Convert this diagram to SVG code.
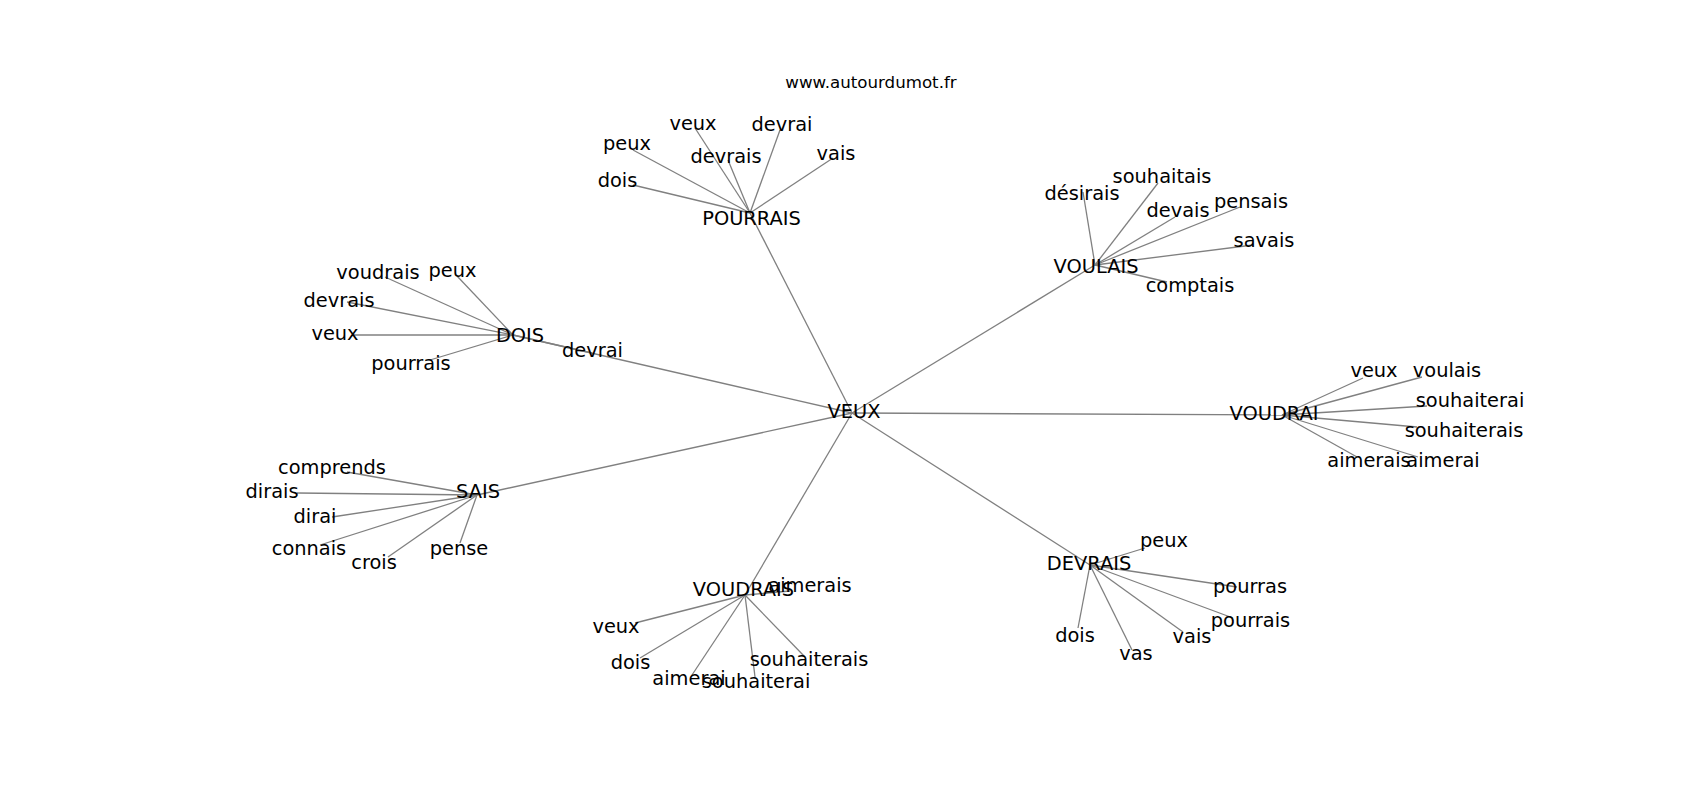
<svg xmlns="http://www.w3.org/2000/svg" width="1700" height="800" viewBox="0 0 1700 800">
<style>
text{font-family:"DejaVu Sans","Liberation Sans",sans-serif;font-size:19.4px;fill:#000;text-anchor:middle}
.title{font-size:16.67px}
#edges line{stroke:#808080;stroke-width:1.3}
</style>
<rect width="1700" height="800" fill="#fff"/>
<text class="title" x="871" y="88">www.autourdumot.fr</text>
<g id="edges">
<line x1="852" y1="413" x2="750" y2="213"/>
<line x1="852" y1="413" x2="513" y2="335"/>
<line x1="852" y1="413" x2="1095" y2="265"/>
<line x1="852" y1="413" x2="1282" y2="415"/>
<line x1="852" y1="413" x2="477" y2="495"/>
<line x1="852" y1="413" x2="745" y2="595"/>
<line x1="852" y1="413" x2="1090" y2="565"/>
<line x1="750" y1="213" x2="633" y2="185"/>
<line x1="750" y1="213" x2="633" y2="150"/>
<line x1="750" y1="213" x2="695" y2="128"/>
<line x1="750" y1="213" x2="728" y2="160"/>
<line x1="750" y1="213" x2="780" y2="130"/>
<line x1="750" y1="213" x2="833" y2="158"/>
<line x1="513" y1="335" x2="385" y2="277"/>
<line x1="513" y1="335" x2="457" y2="276"/>
<line x1="513" y1="335" x2="347" y2="302"/>
<line x1="513" y1="335" x2="352" y2="335"/>
<line x1="513" y1="335" x2="430" y2="360"/>
<line x1="513" y1="335" x2="592" y2="353"/>
<line x1="1095" y1="265" x2="1083" y2="192"/>
<line x1="1095" y1="265" x2="1158" y2="183"/>
<line x1="1095" y1="265" x2="1175" y2="217"/>
<line x1="1095" y1="265" x2="1240" y2="207"/>
<line x1="1095" y1="265" x2="1253" y2="245"/>
<line x1="1095" y1="265" x2="1167" y2="282"/>
<line x1="1282" y1="415" x2="1363" y2="378"/>
<line x1="1282" y1="415" x2="1422" y2="377"/>
<line x1="1282" y1="415" x2="1427" y2="406"/>
<line x1="1282" y1="415" x2="1417" y2="427"/>
<line x1="1282" y1="415" x2="1357" y2="457"/>
<line x1="1282" y1="415" x2="1418" y2="457"/>
<line x1="477" y1="495" x2="347" y2="472"/>
<line x1="477" y1="495" x2="297" y2="493"/>
<line x1="477" y1="495" x2="332" y2="517"/>
<line x1="477" y1="495" x2="320" y2="545"/>
<line x1="477" y1="495" x2="388" y2="557"/>
<line x1="477" y1="495" x2="460" y2="543"/>
<line x1="745" y1="595" x2="790" y2="591"/>
<line x1="745" y1="595" x2="635" y2="623"/>
<line x1="745" y1="595" x2="640" y2="658"/>
<line x1="745" y1="595" x2="692" y2="675"/>
<line x1="745" y1="595" x2="755" y2="677"/>
<line x1="745" y1="595" x2="805" y2="657"/>
<line x1="1090" y1="565" x2="1145" y2="548"/>
<line x1="1090" y1="565" x2="1237" y2="587"/>
<line x1="1090" y1="565" x2="1233" y2="618"/>
<line x1="1090" y1="565" x2="1183" y2="632"/>
<line x1="1090" y1="565" x2="1132" y2="650"/>
<line x1="1090" y1="565" x2="1078" y2="628"/>
</g>
<g id="n-veux"><text x="854" y="418">VEUX</text></g>
<g id="n-pourrais"><text x="751.5" y="225">POURRAIS</text></g>
<g id="n-pourrais-dois"><text x="617.5" y="187">dois</text></g>
<g id="n-pourrais-peux"><text x="627" y="150">peux</text></g>
<g id="n-pourrais-veux"><text x="693" y="130">veux</text></g>
<g id="n-pourrais-devrais"><text x="726" y="163">devrais</text></g>
<g id="n-pourrais-devrai"><text x="782" y="131">devrai</text></g>
<g id="n-pourrais-vais"><text x="836" y="160">vais</text></g>
<g id="n-dois"><text x="520" y="342">DOIS</text></g>
<g id="n-dois-voudrais"><text x="378" y="279">voudrais</text></g>
<g id="n-dois-peux"><text x="452.5" y="277">peux</text></g>
<g id="n-dois-devrais"><text x="339" y="307">devrais</text></g>
<g id="n-dois-veux"><text x="335" y="340">veux</text></g>
<g id="n-dois-pourrais"><text x="411" y="370">pourrais</text></g>
<g id="n-dois-devrai"><text x="592.5" y="357">devrai</text></g>
<g id="n-voulais"><text x="1096" y="273">VOULAIS</text></g>
<g id="n-voulais-desirais"><text x="1082" y="200">désirais</text></g>
<g id="n-voulais-souhaitais"><text x="1162" y="183">souhaitais</text></g>
<g id="n-voulais-devais"><text x="1178" y="217">devais</text></g>
<g id="n-voulais-pensais"><text x="1251" y="208">pensais</text></g>
<g id="n-voulais-savais"><text x="1264" y="247">savais</text></g>
<g id="n-voulais-comptais"><text x="1190" y="292">comptais</text></g>
<g id="n-voudrai"><text x="1274" y="420">VOUDRAI</text></g>
<g id="n-voudrai-veux"><text x="1374" y="377">veux</text></g>
<g id="n-voudrai-voulais"><text x="1447" y="377">voulais</text></g>
<g id="n-voudrai-souhaiterai"><text x="1470" y="407">souhaiterai</text></g>
<g id="n-voudrai-souhaiterais"><text x="1464" y="437">souhaiterais</text></g>
<g id="n-voudrai-aimerais"><text x="1369" y="467">aimerais</text></g>
<g id="n-voudrai-aimerai"><text x="1443" y="467">aimerai</text></g>
<g id="n-sais"><text x="478" y="498">SAIS</text></g>
<g id="n-sais-comprends"><text x="332" y="474">comprends</text></g>
<g id="n-sais-dirais"><text x="272" y="498">dirais</text></g>
<g id="n-sais-dirai"><text x="315" y="523">dirai</text></g>
<g id="n-sais-connais"><text x="309" y="555">connais</text></g>
<g id="n-sais-crois"><text x="374" y="569">crois</text></g>
<g id="n-sais-pense"><text x="459" y="555">pense</text></g>
<g id="n-voudrais"><text x="743.5" y="596">VOUDRAIS</text></g>
<g id="n-voudrais-aimerais"><text x="810" y="592">aimerais</text></g>
<g id="n-voudrais-veux"><text x="616" y="633">veux</text></g>
<g id="n-voudrais-dois"><text x="630.5" y="669">dois</text></g>
<g id="n-voudrais-aimerai"><text x="689" y="685">aimerai</text></g>
<g id="n-voudrais-souhaiterai"><text x="756" y="688">souhaiterai</text></g>
<g id="n-voudrais-souhaiterais"><text x="809" y="666">souhaiterais</text></g>
<g id="n-devrais"><text x="1089" y="570">DEVRAIS</text></g>
<g id="n-devrais-peux"><text x="1164" y="547">peux</text></g>
<g id="n-devrais-pourras"><text x="1250" y="593">pourras</text></g>
<g id="n-devrais-pourrais"><text x="1250.5" y="627">pourrais</text></g>
<g id="n-devrais-vais"><text x="1192" y="643">vais</text></g>
<g id="n-devrais-vas"><text x="1136" y="660">vas</text></g>
<g id="n-devrais-dois"><text x="1075" y="642">dois</text></g>
</svg>
